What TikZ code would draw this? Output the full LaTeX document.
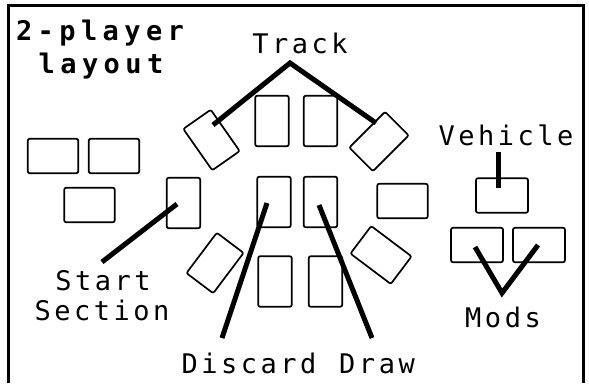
\documentclass[tikz,border=0pt]{standalone}
\usepackage{fontspec}
\usepackage{tikz}
\usetikzlibrary{positioning, calc}
\newfontfamily\sketchfont[LetterSpace=13]{DejaVu Sans Mono}
\newfontfamily\titlefont[LetterSpace=20]{DejaVu Sans Mono}

\begin{document}
\begin{tikzpicture}[x=1pt, y=-1pt,
  vcard/.style={draw, line width=1.7pt, rounded corners=2pt, minimum width=33.5pt, minimum height=50.5pt, inner sep=0pt},
  hcard/.style={vcard, minimum width=50.5pt, minimum height=34.5pt},
  lbl/.style={anchor=base, inner sep=0pt, font=\sketchfont\fontsize{27}{30}\selectfont},
  ttl/.style={anchor=base, inner sep=0pt, font=\titlefont\bfseries\fontsize{27}{30}\selectfont},
  pointer/.style={line width=5pt}]
\useasboundingbox (0,0) rectangle (589,383);
\draw[line width=2.5pt] (8.5,383) -- (8.5,5.5) -- (583.5,5.5) -- (583.5,383);
\node[ttl] (title1) at (100,40) {2-player};
\node[ttl] (title2) at (101,73) {layout};
\node[hcard] (l1) at (53,156) {};
\node[hcard] (l2) at (114,156) {};
\node[hcard] (l3) at (89.5,205) {};
\node[vcard] (st) at (183.5,203) {};
\node[vcard, rotate=35] (tl) at (211.5,140) {};
\node[vcard, rotate=-45] (tr) at (379,141.5) {};
\node[vcard] (ta) at (272,121) {};
\node[vcard] (tb) at (320.5,121) {};
\node[vcard] (ma) at (274,202) {};
\node[vcard] (mb) at (320.5,202) {};
\node[hcard] (rc) at (402.5,201) {};
\node[vcard] (ba) at (275,281.5) {};
\node[vcard] (bb) at (325.5,281.5) {};
\node[vcard, rotate=-37] (bl) at (215,263) {};
\node[hcard, rotate=-37] (br) at (381,255) {};
\node[hcard, minimum width=52pt] (veh) at (502,195.5) {};
\node[hcard, minimum width=52pt] (moda) at (477,245) {};
\node[hcard, minimum width=52pt] (modb) at (539,245) {};
\node[lbl] (track) at (300,53) {Track};
\node[lbl] (vehicle) at (506,145) {Vehicle};
\node[lbl] (mods) at (503,327) {Mods};
\node[lbl] (start) at (103,290) {Start};
\node[lbl] (section) at (102,320) {Section};
\node[lbl] (discard) at (249,373) {Discard};
\node[lbl] (draw) at (377,373) {Draw};
\coordinate (trackapex) at (290,63);
\coordinate (tlhit) at (213,125);
\coordinate (trhit) at (376,123);
\coordinate (starttip) at (102,262);
\coordinate (sthit) at (177,204);
\coordinate (discardtip) at (222,338);
\coordinate (mahit) at (267,203);
\coordinate (drawtip) at (372,338);
\coordinate (mbhit) at (319,205);
\coordinate (vehtip) at (498,152);
\coordinate (vehhit) at (498,188);
\coordinate (modapex) at (502,293);
\coordinate (modahit) at (475,247);
\coordinate (modbhit) at (538,245);
\draw[pointer] (tlhit) -- (trackapex) -- (trhit);
\draw[pointer] (starttip) -- (sthit);
\draw[pointer] (discardtip) -- (mahit);
\draw[pointer] (drawtip) -- (mbhit);
\draw[pointer] (vehtip) -- (vehhit);
\draw[pointer] (modahit) -- (modapex) -- (modbhit);
\end{tikzpicture}
\end{document}
